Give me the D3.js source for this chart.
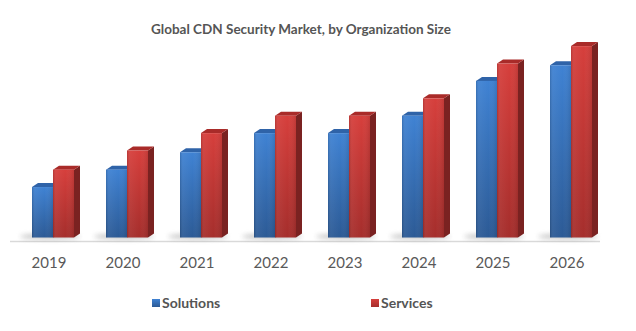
<!DOCTYPE html>
<html>
<head>
<meta charset="utf-8">
<style>
  body { margin: 0; background: #fff; }
  text { font-family: Lato, "Open Sans", sans-serif; }
</style>
</head>
<body>
<svg width="636" height="331"></svg>
<script src="https://d3js.org/d3.v7.min.js"></script>
<script>
  var years = ["2019", "2020", "2021", "2022", "2023", "2024", "2025", "2026"];
  var solutions = [2.9, 3.9, 4.9, 6.0, 6.0, 7.0, 9.0, 9.9];
  var services = [3.9, 5.0, 6.0, 7.0, 7.0, 8.0, 10.0, 11.0];
  var seriesNames = ["Solutions", "Services"];

  var svg = d3.select("svg");
  var defs = svg.append("defs");

  var x = d3.scaleBand().domain(years).range([12, 604]);
  var y = d3.scaleLinear().domain([0, 12]).range([237.5, 28.7]);

  var barW = 21, dx = 6, dy = 4;

  // colour sets: front gradient top/bottom, side, top face
  var palette = {
    Solutions: { top: "#3f82d3", bottom: "#2c5a95", side: "#244b80", cap: "#2f63a8" },
    Services: { top: "#d63f3c", bottom: "#a52e2c", side: "#7a2221", cap: "#a92b29" }
  };

  seriesNames.forEach(function(k) {
    var g = defs.append("linearGradient").attr("id", "grad" + k)
      .attr("x1", 0).attr("y1", 0).attr("x2", 0).attr("y2", 1);
    g.append("stop").attr("offset", "0%").attr("stop-color", palette[k].top);
    g.append("stop").attr("offset", "100%").attr("stop-color", palette[k].bottom);
    var h = defs.append("linearGradient").attr("id", "shine" + k)
      .attr("x1", 0).attr("y1", 0).attr("x2", 1).attr("y2", 0);
    h.append("stop").attr("offset", "0%").attr("stop-color", "#000").attr("stop-opacity", 0.15);
    h.append("stop").attr("offset", "15%").attr("stop-color", "#fff").attr("stop-opacity", 0.05);
    h.append("stop").attr("offset", "60%").attr("stop-color", "#fff").attr("stop-opacity", 0);
    h.append("stop").attr("offset", "100%").attr("stop-color", "#000").attr("stop-opacity", 0.1);
  });

  var blur = defs.append("filter").attr("id", "soft").attr("x", "-50%").attr("y", "-200%")
    .attr("width", "200%").attr("height", "500%");
  blur.append("feGaussianBlur").attr("stdDeviation", 2.5);

  // title
  svg.append("text")
    .attr("x", 301).attr("y", 34)
    .attr("text-anchor", "middle")
    .attr("font-size", 13.5).attr("font-weight", "bold")
    .attr("fill", "#555")
    .text("Global CDN Security Market, by Organization Size");

  // floor line
  svg.append("line")
    .attr("x1", 10).attr("x2", 600)
    .attr("y1", 241.5).attr("y2", 241.5)
    .attr("stroke", "#d9d9d9").attr("stroke-width", 1.5);

  var rows = years.map(function(yr, i) {
    return { year: yr, Solutions: solutions[i], Services: services[i] };
  });

  var groups = svg.append("g").selectAll("g")
    .data(rows).enter().append("g")
    .attr("transform", function(d) { return "translate(" + (x(d.year) + x.bandwidth() / 2 - 17) + ",0)"; });

  // shadows on the floor
  groups.append("ellipse")
    .attr("cx", 18).attr("cy", y(0) - 1)
    .attr("rx", 30).attr("ry", 2.5)
    .attr("fill", "#888").attr("opacity", 0.55)
    .attr("filter", "url(#soft)");

  seriesNames.forEach(function(k, si) {
    var x0 = si * barW;
    // side face
    groups.append("path")
      .attr("fill", palette[k].side)
      .attr("d", function(d) {
        var t = y(d[k]), b = y(0);
        return "M" + (x0 + barW) + "," + t + "L" + (x0 + barW + dx) + "," + (t - dy) +
          "L" + (x0 + barW + dx) + "," + (b - dy) + "L" + (x0 + barW) + "," + b + "Z";
      });
    // top face
    groups.append("path")
      .attr("fill", palette[k].cap)
      .attr("d", function(d) {
        var t = y(d[k]);
        return "M" + x0 + "," + t + "L" + (x0 + dx) + "," + (t - dy) +
          "L" + (x0 + barW + dx) + "," + (t - dy) + "L" + (x0 + barW) + "," + t + "Z";
      });
    // front face
    groups.append("rect")
      .attr("x", x0).attr("width", barW)
      .attr("y", function(d) { return y(d[k]); })
      .attr("height", function(d) { return y(0) - y(d[k]); })
      .attr("fill", "url(#grad" + k + ")");
    groups.append("rect")
      .attr("x", x0).attr("width", barW)
      .attr("y", function(d) { return y(d[k]); })
      .attr("height", function(d) { return y(0) - y(d[k]); })
      .attr("fill", "url(#shine" + k + ")");
  });

  // year labels
  svg.append("g").selectAll("text")
    .data(years).enter().append("text")
    .attr("x", function(d) { return x(d) + x.bandwidth() / 2; })
    .attr("y", 268)
    .attr("text-anchor", "middle")
    .attr("font-size", 15).attr("fill", "#595959")
    .text(function(d) { return d; });

  // legend
  var legendX = [152, 371];
  var legend = svg.append("g").selectAll("g")
    .data(seriesNames).enter().append("g")
    .attr("transform", function(d, i) { return "translate(" + legendX[i] + ",299)"; });
  legend.append("rect")
    .attr("width", 8).attr("height", 8)
    .attr("fill", function(d) { return "url(#grad" + d + ")"; });
  legend.append("text")
    .attr("x", 10).attr("y", 8.5)
    .attr("font-size", 14).attr("font-weight", "bold")
    .attr("fill", "#555")
    .text(function(d) { return d; });
</script>
</body>
</html>
